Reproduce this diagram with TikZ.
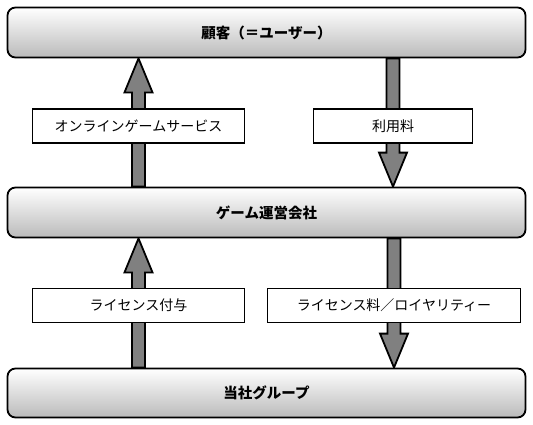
\documentclass[tikz,border=0pt]{standalone}
\usepackage{fontspec}
\setmainfont{Noto Sans CJK JP}
\usetikzlibrary{calc}
\usetikzlibrary{backgrounds}

\begin{document}
\begin{tikzpicture}[x=1pt,y=-1pt,
    bigbox/.style={draw,line width=1.8pt,rounded corners=8pt,top color=white,bottom color=black!27,
      minimum width=518pt,minimum height=50pt,font=\fontsize{14.5}{16}\selectfont\bfseries},
    tagbox/.style={draw,line width=1.8pt,fill=white,minimum height=34pt,inner sep=0pt,
      font=\fontsize{14}{16}\selectfont},
    blockarrow/.style={draw,line width=1.8pt,fill=black!50,line join=miter}]
  \useasboundingbox (0,0) rectangle (533,424);
  \node[bigbox] (kokyaku) at (266.5,32.5) {顧客（＝ユーザー）};
  \node[bigbox] (unei) at (266.5,212.5) {ゲーム運営会社};
  \node[bigbox,minimum height=49pt] (tosha) at (266.5,393) {当社グループ};
  \node[tagbox,minimum width=212pt] (service) at (138.5,126) {オンラインゲームサービス};
  \node[tagbox,minimum width=159pt] (fee) at (393,126) {利用料};
  \node[tagbox,minimum width=212pt] (license) at (138.5,305.5) {ライセンス付与};
  \node[tagbox,minimum width=253pt] (royalty) at (394,305.5) {ライセンス料／ロイヤリティー};
  % block arrows behind the tags
  \begin{scope}[on background layer]
    \foreach \from/\to/\via in {unei.north/kokyaku.south/service, kokyaku.south/unei.north/fee,
        tosha.north/unei.south/license, unei.south/tosha.north/royalty}
      \draw[blockarrow] let \p1=(\from -| \via), \p2=(\to -| \via), \n1={(\y2-\y1)/abs(\y2-\y1)} in
        ({\x1-6.5pt},\y1) -- ({\x1-6.5pt},{\y2-\n1*34pt}) -- ({\x1-14pt},{\y2-\n1*34pt}) -- (\x2,\y2)
        -- ({\x1+14pt},{\y2-\n1*34pt}) -- ({\x1+6.5pt},{\y2-\n1*34pt}) -- ({\x1+6.5pt},\y1) -- cycle;
  \end{scope}
\end{tikzpicture}
\end{document}
